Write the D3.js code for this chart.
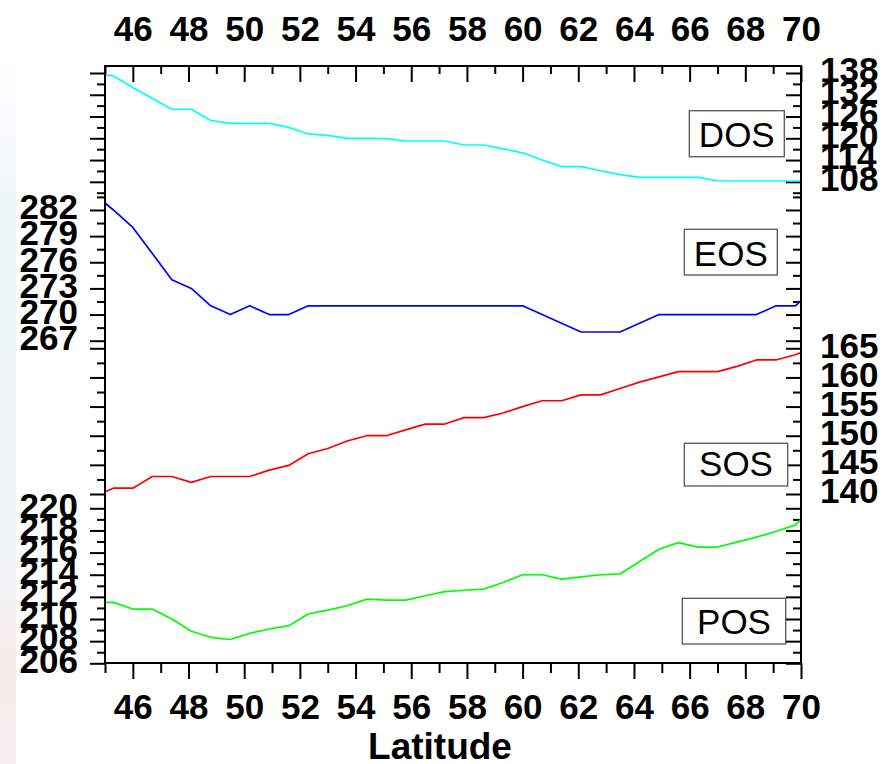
<!DOCTYPE html>
<html>
<head>
<meta charset="utf-8">
<script src="https://cdn.jsdelivr.net/npm/d3@7"></script>
<style>
body { margin: 0; background: #fff; }
svg { display: block; font-family: "Liberation Sans", Arial, sans-serif; }
</style>
</head>
<body>
<div class="content"></div>
<script>
var svgWidth = 893;
var svgHeight = 764;

// Plot frame.
var plotLeft = 105, plotRight = 801, plotTop = 66, plotBottom = 663;

// Data.
var latitude = [45.0, 45.3, 46.0, 46.7, 47.4, 48.1, 48.8, 49.5, 50.2, 50.9, 51.6, 52.3, 53.0, 53.7, 54.4, 55.1, 55.8, 56.5, 57.2,
	57.9, 58.6, 59.3, 60.0, 60.7, 61.4, 62.1, 62.8, 63.5, 64.2, 64.9, 65.6, 66.3, 67.0, 67.7, 68.4, 69.1, 69.8, 70.0];

var dos = [137.45, 137.2, 134.0, 131.0, 128.0, 128.0, 124.9, 124.1, 124.1, 124.1, 123.0, 121.2, 120.8, 120.0, 120.0, 119.9, 119.25, 119.25, 119.25,
	118.15, 118.15, 117.1, 116.0, 114.0, 112.2, 112.2, 111.05, 110.0, 109.24, 109.24, 109.24, 109.24, 108.3, 108.22, 108.22, 108.22, 108.22, 108.22];

var eos = [282.8, 282.0, 280.0, 277.0, 274.0, 273.0, 271.0, 270.0, 271.0, 270.0, 270.0, 271.0, 271.0, 271.0, 271.0, 271.0, 271.0, 271.0, 271.0,
	271.0, 271.0, 271.0, 271.0, 270.0, 269.0, 268.0, 268.0, 268.0, 269.0, 270.0, 270.0, 270.0, 270.0, 270.0, 270.0, 271.0, 271.0, 271.6];

var sos = [140.4, 141.0, 141.0, 143.0, 143.0, 142.0, 143.0, 143.0, 143.0, 144.1, 144.9, 146.9, 147.8, 149.1, 150.0, 150.0, 151.0, 152.0, 152.0,
	153.1, 153.1, 153.9, 155.0, 156.0, 156.0, 157.0, 157.0, 158.1, 159.2, 160.1, 161.0, 161.0, 161.0, 161.9, 163.0, 163.0, 163.9, 164.25];

var pos = [211.5, 211.5, 210.9, 210.9, 210.0, 208.9, 208.35, 208.15, 208.7, 209.1, 209.4, 210.45, 210.8, 211.2, 211.8, 211.7, 211.7, 212.1, 212.47,
	212.6, 212.7, 213.3, 214.0, 214.0, 213.6, 213.8, 214.0, 214.07, 215.2, 216.3, 216.9, 216.5, 216.5, 216.95, 217.4, 217.9, 218.5, 219.0];

// Tick labels.
var latLabels = [46, 48, 50, 52, 54, 56, 58, 60, 62, 64, 66, 68, 70];
var latMinor = [45, 47, 49, 51, 53, 55, 57, 59, 61, 63, 65, 67, 69];
var dosLabels = [108, 114, 120, 126, 132, 138];
var dosMinor = [105, 111, 117, 123, 129, 135];
var eosLabels = [267, 270, 273, 276, 279, 282];
var eosMinor = [268.5, 271.5, 274.5, 277.5, 280.5, 283.5];
var sosLabels = [140, 145, 150, 155, 160, 165];
var sosMinor = [142.5, 147.5, 152.5, 157.5, 162.5];
var posLabels = [206, 208, 210, 212, 214, 216, 218, 220];
var posMinor = [207, 209, 211, 213, 215, 217, 219];

var legendNames = ["DOS", "EOS", "SOS", "POS"];

var tickFont = "bold 35px 'Liberation Sans', Arial, sans-serif";

var svg = d3.select(".content")
	.append("svg")
	.attr("width", svgWidth)
	.attr("height", svgHeight);

// Faint strip on the left edge of the picture.
var grad = svg.append("defs").append("linearGradient")
	.attr("id", "strip")
	.attr("x1", 0).attr("y1", 0).attr("x2", 0).attr("y2", 1);
grad.append("stop").attr("offset", "0").attr("stop-color", "#ffffff");
grad.append("stop").attr("offset", "0.2").attr("stop-color", "#eef5f9");
grad.append("stop").attr("offset", "0.7").attr("stop-color", "#eef4f8");
grad.append("stop").attr("offset", "0.85").attr("stop-color", "#f8ecea");
grad.append("stop").attr("offset", "1").attr("stop-color", "#f9eeee");
svg.append("rect")
	.attr("x", 0).attr("y", 60)
	.attr("width", 16).attr("height", svgHeight - 60)
	.attr("fill", "url(#strip)");

var x = d3.scaleLinear().domain([45, 70]).range([plotLeft, plotRight]);

var series = [
	{"name": "DOS", "values": dos, "color": "#00ffff", "labels": dosLabels, "minor": dosMinor, "side": "right",
		"y": d3.scaleLinear().domain([105, 138]).range([192.7, 73])},
	{"name": "EOS", "values": eos, "color": "#0000ff", "labels": eosLabels, "minor": eosMinor, "side": "left",
		"y": d3.scaleLinear().domain([267, 283.5]).range([340.7, 196.9])},
	{"name": "SOS", "values": sos, "color": "#ff0000", "labels": sosLabels, "minor": sosMinor, "side": "right",
		"y": d3.scaleLinear().domain([140, 165]).range([494, 348.3])},
	{"name": "POS", "values": pos, "color": "#00ff00", "labels": posLabels, "minor": posMinor, "side": "left",
		"y": d3.scaleLinear().domain([206, 220]).range([663.3, 508.3])}
];

function styleAxis(g)
{
	g.select(".domain").remove();
	g.selectAll("line").attr("stroke", "#000").attr("stroke-width", 2);
	g.selectAll("text").style("font", tickFont).attr("fill", "#000");
}

// Y axes: ticks on both sides, all pointing left; labels on one side.
series.forEach(function(s)
{
	[plotLeft, plotRight].forEach(function(px)
	{
		svg.append("g")
			.attr("transform", "translate(" + px + ",0)")
			.call(d3.axisLeft(s.y).tickValues(s.minor).tickSize(8).tickFormat(""))
			.call(styleAxis);
		svg.append("g")
			.attr("transform", "translate(" + px + ",0)")
			.call(d3.axisLeft(s.y).tickValues(s.labels).tickSize(15).tickFormat(""))
			.call(styleAxis);
	});

	var labelAxis = s.side === "left"
		? d3.axisLeft(s.y).tickPadding(27)
		: d3.axisRight(s.y).tickPadding(19);
	svg.append("g")
		.attr("transform", "translate(" + (s.side === "left" ? plotLeft : plotRight) + ",0)")
		.call(labelAxis.tickValues(s.labels).tickSize(0).tickFormat(d3.format("d")))
		.call(styleAxis)
		.selectAll("text").attr("dy", "0.25em");
});

// X axes: top ticks point into the plot, bottom ticks point out.
svg.append("g")
	.attr("transform", "translate(0," + plotTop + ")")
	.call(d3.axisBottom(x).tickValues(latMinor).tickSize(8).tickFormat(""))
	.call(styleAxis);
svg.append("g")
	.attr("transform", "translate(0," + plotTop + ")")
	.call(d3.axisBottom(x).tickValues(latLabels).tickSize(16).tickFormat(""))
	.call(styleAxis);
svg.append("g")
	.attr("transform", "translate(0," + plotTop + ")")
	.call(d3.axisTop(x).tickValues(latLabels).tickSize(0).tickPadding(25).tickFormat(d3.format("d")))
	.call(styleAxis);

svg.append("g")
	.attr("transform", "translate(0," + plotBottom + ")")
	.call(d3.axisBottom(x).tickValues(latMinor).tickSize(10).tickFormat(""))
	.call(styleAxis);
svg.append("g")
	.attr("transform", "translate(0," + plotBottom + ")")
	.call(d3.axisBottom(x).tickValues(latLabels).tickSize(16).tickPadding(15).tickFormat(d3.format("d")))
	.call(styleAxis);

// The lines.
series.forEach(function(s)
{
	var line = d3.line()
		.x(function(d, i) { return x(latitude[i]); })
		.y(function(d) { return s.y(d); });
	svg.append("path")
		.datum(s.values)
		.attr("fill", "none")
		.attr("stroke", s.color)
		.attr("stroke-width", 1.7)
		.attr("stroke-linejoin", "round")
		.attr("d", line);
});

// Frame.
svg.append("rect")
	.attr("x", plotLeft)
	.attr("y", plotTop)
	.attr("width", plotRight - plotLeft)
	.attr("height", plotBottom - plotTop)
	.attr("fill", "none")
	.attr("stroke", "#000")
	.attr("stroke-width", 2);

// Legend boxes, one per series.
var legendBoxes = [
	{"x": 689.3, "y": 110.7, "w": 95, "h": 46, "base": 147},
	{"x": 684.3, "y": 229.3, "w": 93, "h": 45.7, "base": 265.5},
	{"x": 684.3, "y": 443.3, "w": 103.4, "h": 42.7, "base": 476},
	{"x": 682.3, "y": 598.3, "w": 103.4, "h": 45.7, "base": 634}
];
legendNames.forEach(function(name, i)
{
	var b = legendBoxes[i];
	svg.append("rect")
		.attr("x", b.x).attr("y", b.y)
		.attr("width", b.w).attr("height", b.h)
		.attr("fill", "#fff")
		.attr("stroke", "#555")
		.attr("stroke-width", 1.3);
	svg.append("text")
		.attr("x", b.x + b.w / 2)
		.attr("y", b.base)
		.attr("text-anchor", "middle")
		.style("font", "35px 'Liberation Sans', Arial, sans-serif")
		.text(name);
});

// Axis title.
svg.append("text")
	.attr("x", 440)
	.attr("y", 759)
	.attr("text-anchor", "middle")
	.style("font", "bold 37px 'Liberation Sans', Arial, sans-serif")
	.text("Latitude");
</script>
</body>
</html>
